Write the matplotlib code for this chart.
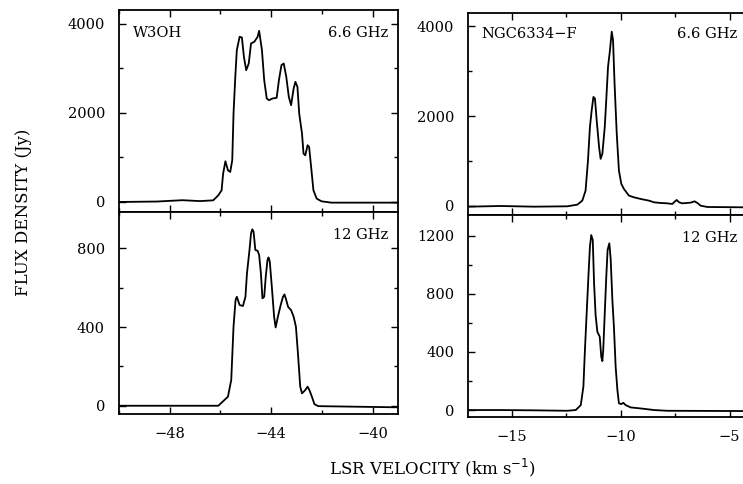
import numpy as np
import matplotlib.pyplot as plt
from matplotlib.ticker import MultipleLocator

plt.rcParams['font.family'] = ['DejaVu Serif']

# W3OH 6.6 GHz spectrum (velocity km/s, flux Jy)
w3oh_66_vel = [-50.0, -48.5, -47.5, -46.8, -46.28, -46.08, -45.95, -45.89, -45.80, -45.70,
               -45.61, -45.53, -45.48, -45.41, -45.35, -45.24, -45.15, -45.07, -44.98,
               -44.88, -44.79, -44.66, -44.53, -44.47, -44.36, -44.27, -44.17, -44.08,
               -43.95, -43.78, -43.69, -43.59, -43.50, -43.40, -43.30, -43.21, -43.11,
               -43.04, -42.96, -42.89, -42.78, -42.72, -42.65, -42.56, -42.50, -42.42,
               -42.33, -42.20, -42.01, -41.62, -39.0]
w3oh_66_flux = [0, 10, 40, 20, 37, 150, 262, 637, 915, 712,
                675, 937, 1987, 2812, 3412, 3712, 3697, 3262, 2962,
                3112, 3562, 3600, 3712, 3847, 3412, 2737, 2325, 2287,
                2325, 2340, 2737, 3075, 3112, 2812, 2362, 2175, 2550,
                2700, 2587, 1987, 1537, 1087, 1050, 1275, 1237, 787,
                262, 75, 15, -15, -15]

# W3OH 12 GHz spectrum
w3oh_12_vel = [-50.0, -46.08, -45.70, -45.57, -45.48, -45.40, -45.35, -45.24, -45.11, -45.01,
               -44.95, -44.85, -44.79, -44.74, -44.69, -44.62, -44.53, -44.47, -44.40,
               -44.34, -44.27, -44.21, -44.14, -44.10, -44.05, -43.97, -43.88, -43.82,
               -43.73, -43.62, -43.53, -43.47, -43.40, -43.33, -43.21, -43.11, -43.02,
               -42.94, -42.85, -42.78, -42.65, -42.56, -42.49, -42.39, -42.29, -42.14, -39.0]
w3oh_12_flux = [0, 0, 46, 131, 402, 537, 554, 512, 507, 554,
                673, 792, 876, 897, 885, 792, 788, 766, 673,
                546, 554, 656, 741, 754, 732, 605, 453, 398,
                453, 512, 554, 566, 537, 503, 486, 453, 402,
                266, 97, 63, 80, 97, 80, 46, 8, -2, -8]

# NGC6334-F 6.6 GHz spectrum
ngc_66_vel = [-17.0, -15.50, -13.98, -12.45, -11.99, -11.76, -11.61, -11.50, -11.41, -11.33,
              -11.25, -11.18, -11.10, -10.99, -10.92, -10.84, -10.73, -10.67, -10.58,
              -10.49, -10.41, -10.35, -10.28, -10.18, -10.08, -9.97, -9.85, -9.62,
              -9.39, -9.08, -8.70, -8.47, -8.17, -7.86, -7.63, -7.52, -7.43, -7.32,
              -7.17, -6.79, -6.61, -6.48, -6.33, -6.02, -4.2]
ngc_66_flux = [-15, 0, -15, -7, 30, 119, 342, 1011, 1755, 2126,
               2424, 2387, 1903, 1309, 1048, 1160, 1755, 2275, 3093,
               3465, 3874, 3688, 2721, 1606, 788, 491, 379, 230,
               193, 156, 119, 82, 67, 59, 45, 97, 134, 82,
               59, 74, 104, 67, 7, -22, -30]

# NGC6334-F 12 GHz spectrum
ngc_12_vel = [-17.0, -15.50, -13.98, -12.45, -12.06, -11.83, -11.71, -11.64, -11.56, -11.48,
              -11.41, -11.35, -11.28, -11.22, -11.15, -11.07, -10.96, -10.89, -10.84,
              -10.80, -10.73, -10.66, -10.60, -10.52, -10.46, -10.38, -10.31, -10.23,
              -10.15, -10.08, -9.97, -9.88, -9.77, -9.54, -9.08, -8.47, -7.86, -4.2]
ngc_12_flux = [0, 0, -2, -5, 0, 34, 161, 413, 666, 918,
               1125, 1205, 1170, 872, 654, 539, 505, 367, 337,
               413, 666, 918, 1102, 1148, 1044, 757, 574, 298,
               138, 46, 41, 50, 34, 18, 11, 0, -5, -7]

fig = plt.figure(figsize=(7.43, 4.84), dpi=100)

ax_tl = fig.add_axes([0.160, 0.562, 0.3755, 0.4174])
ax_bl = fig.add_axes([0.160, 0.1446, 0.3755, 0.4174])
ax_tr = fig.add_axes([0.630, 0.5558, 0.3755, 0.4174])
ax_br = fig.add_axes([0.630, 0.1384, 0.3755, 0.4174])

panels = [
    (ax_tl, w3oh_66_vel, w3oh_66_flux, (-50, -39), (-225, 4315), 2000, 1000, 4, 2),
    (ax_bl, w3oh_12_vel, w3oh_12_flux, (-50, -39), (-42, 985), 400, 200, 4, 2),
    (ax_tr, ngc_66_vel, ngc_66_flux, (-17, -4.2), (-200, 4290), 2000, 1000, 5, 2.5),
    (ax_br, ngc_12_vel, ngc_12_flux, (-17, -4.2), (-48, 1343), 400, 200, 5, 2.5),
]

for ax, vel, flux, xl, yl, ymaj, ymin, xmaj, xmin in panels:
    ax.plot(vel, flux, color='black', lw=1.3)
    ax.set_xlim(*xl)
    ax.set_ylim(*yl)
    ax.xaxis.set_major_locator(MultipleLocator(xmaj))
    ax.xaxis.set_minor_locator(MultipleLocator(xmin))
    ax.yaxis.set_major_locator(MultipleLocator(ymaj))
    ax.yaxis.set_minor_locator(MultipleLocator(ymin))
    ax.tick_params(which='both', direction='in', top=True, right=True, width=1.0)
    ax.tick_params(which='major', length=5)
    ax.tick_params(which='minor', length=3)
    ax.tick_params(axis='y', labelsize=10.5, pad=10)
    ax.tick_params(axis='x', labelsize=10.5, pad=9)
    for s in ax.spines.values():
        s.set_linewidth(1.3)

for ax in (ax_tl, ax_tr):
    ax.tick_params(axis='x', labelbottom=False)

# right-hand panels run off the edge of the page
for ax in (ax_tr, ax_br):
    ax.tick_params(which='both', right=False)

ax_tl.text(0.05, 0.886, 'W3OH', transform=ax_tl.transAxes, fontsize=10.5, va='center', ha='left')
ax_tl.text(0.964, 0.886, '6.6 GHz', transform=ax_tl.transAxes, fontsize=10.5, va='center', ha='right')
ax_bl.text(0.964, 0.886, '12 GHz', transform=ax_bl.transAxes, fontsize=10.5, va='center', ha='right')
ax_tr.text(0.047, 0.896, 'NGC6334\u2212F', transform=ax_tr.transAxes, fontsize=10.5, va='center', ha='left')
ax_tr.text(0.965, 0.896, '6.6 GHz', transform=ax_tr.transAxes, fontsize=10.5, va='center', ha='right')
ax_br.text(0.965, 0.886, '12 GHz', transform=ax_br.transAxes, fontsize=10.5, va='center', ha='right')

fig.text(24 / 743, 1 - 212 / 484, 'FLUX DENSITY (Jy)', rotation=90, fontsize=12,
         ha='center', va='center')
fig.text(432 / 743, 1 - 468 / 484, 'LSR VELOCITY (km s$^{-1}$)', fontsize=12,
         ha='center', va='center')

fig.savefig('out.png', dpi=100)
